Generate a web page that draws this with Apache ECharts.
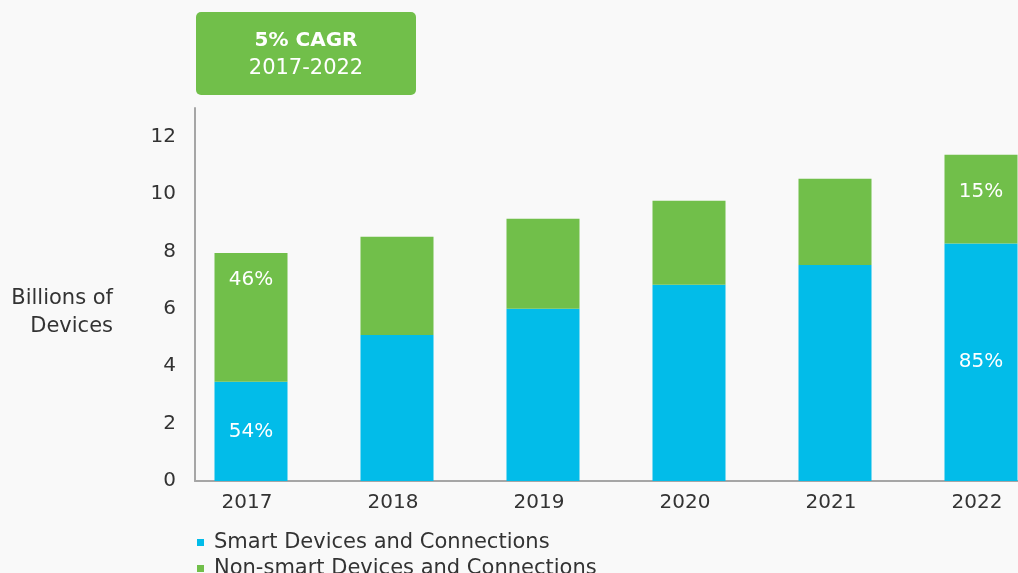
<!DOCTYPE html>
<html>
<head>
<meta charset="utf-8">
<script src="https://cdn.jsdelivr.net/npm/echarts@6/dist/echarts.min.js"></script>
<style>
html,body{margin:0;padding:0;background:#f9f9f9;overflow:hidden;}
/* the last bar is cut by the right edge, so the canvas is a bit wider than the window */
#main{width:1060px;height:573px;}
</style>
</head>
<body>
<div id="main"></div>
<script>
var years = ['2017', '2018', '2019', '2020', '2021', '2022'];
var smart = [3.46, 5.09, 6.0, 6.84, 7.53, 8.28];
var nonSmart = [4.49, 3.42, 3.14, 2.93, 3.0, 3.09];
var smartLabels = ['54%', '', '', '', '', '85%'];
var nonSmartLabels = ['46%', '', '', '', '', '15%'];

var font = 'DejaVu Sans';
var fs = 20;

var myChart = echarts.init(document.getElementById('main'));

function buildData(vals, labels, isGreen){
	return vals.map(function(v, i){
		var item = {value: v};
		if(labels[i]){
			item.label = {show: true, formatter: labels[i]};
			if(isGreen){
				item.label.position = 'insideTop';
				item.label.distance = i == 0 ? 17 : 27;
			}
		}
		return item;
	});
}

var legendText = {fontSize: 21, color: '#333', fontFamily: font, padding: [0, 0, 0, 5]};

var option = {
	backgroundColor: '#f9f9f9',
	textStyle: {fontFamily: font},
	legend: [{
		left: 192,
		top: 527,
		itemWidth: 7,
		itemHeight: 7,
		icon: 'rect',
		textStyle: legendText,
		data: ['Smart Devices and Connections']
	}, {
		left: 192,
		top: 553,
		itemWidth: 7,
		itemHeight: 7,
		icon: 'rect',
		textStyle: legendText,
		data: ['Non-smart Devices and Connections']
	}],
	grid: [
		{left: 178, width: 876, top: 108, bottom: 92},
		// only for the bottom axis line, which starts at the y axis
		{left: 195, right: 0, top: 108, bottom: 92}
	],
	xAxis: [{
		type: 'category',
		data: years,
		gridIndex: 0,
		axisTick: {show: false},
		axisLine: {show: false},
		axisLabel: {fontSize: fs, color: '#333', margin: 12, padding: [0, 8, 0, 0]}
	}, {
		type: 'value',
		gridIndex: 1,
		min: 0,
		max: 1,
		splitLine: {show: false},
		axisTick: {show: false},
		axisLabel: {show: false},
		axisLine: {show: true, lineStyle: {color: '#a6a6a6', width: 2}}
	}],
	yAxis: [{
		type: 'value',
		gridIndex: 0,
		min: 0,
		max: 13,
		interval: 2,
		offset: -17,
		splitLine: {show: false},
		axisTick: {show: false},
		axisLine: {show: true, lineStyle: {color: '#a6a6a6', width: 2}},
		axisLabel: {fontSize: fs, color: '#333', margin: 19, showMaxLabel: false}
	}, {
		type: 'value',
		gridIndex: 1,
		show: false
	}],
	series: [{
		name: 'Smart Devices and Connections',
		type: 'bar',
		stack: 'total',
		barWidth: 73,
		itemStyle: {color: '#02bce9'},
		label: {color: '#fff', fontSize: fs, fontFamily: font},
		data: buildData(smart, smartLabels, false)
	}, {
		name: 'Non-smart Devices and Connections',
		type: 'bar',
		stack: 'total',
		barWidth: 73,
		itemStyle: {color: '#71bf4a'},
		label: {color: '#fff', fontSize: fs, fontFamily: font},
		data: buildData(nonSmart, nonSmartLabels, true)
	}],
	graphic: [{
		type: 'text',
		x: 113,
		y: 285,
		style: {text: 'Billions of\nDevices', fill: '#333', font: '21px ' + font, lineHeight: 28, textAlign: 'right'}
	}, {
		type: 'group',
		left: 196,
		top: 12,
		children: [{
			type: 'rect',
			shape: {x: 0, y: 0, width: 220, height: 83, r: 5},
			style: {fill: '#71bf4a'}
		}, {
			type: 'text',
			x: 110,
			y: 29,
			style: {text: '5% CAGR', fill: '#fff', font: 'bold ' + fs + 'px ' + font, textAlign: 'center', textVerticalAlign: 'middle'}
		}, {
			type: 'text',
			x: 110,
			y: 57,
			style: {text: '2017-2022', fill: '#fff', font: '21px ' + font, textAlign: 'center', textVerticalAlign: 'middle'}
		}]
	}]
};
myChart.setOption(option);
</script>
</body>
</html>
